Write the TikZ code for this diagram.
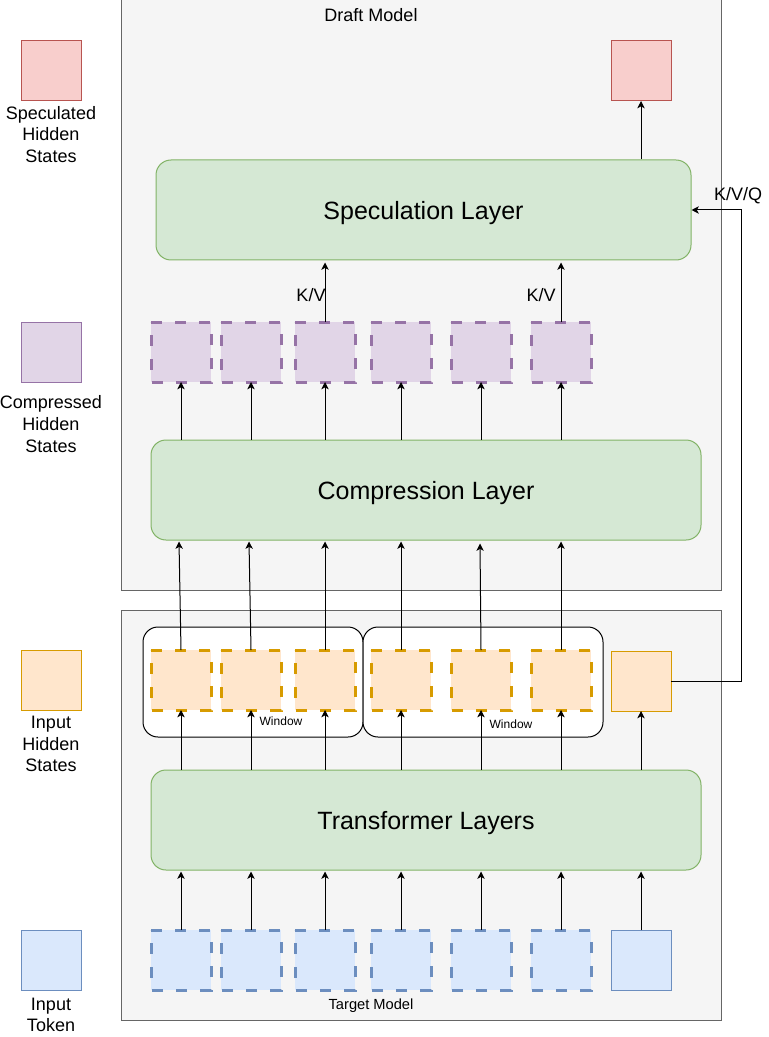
\documentclass[tikz,border=0pt]{standalone}
\usepackage{fontspec}
\setmainfont{Liberation Sans}
\usetikzlibrary{arrows.meta}
\definecolor{contfill}{HTML}{F5F5F5}
\definecolor{contline}{HTML}{666666}
\definecolor{grfill}{HTML}{D5E8D4}
\definecolor{grline}{HTML}{82B366}
\definecolor{pkfill}{HTML}{F8CECC}
\definecolor{pkline}{HTML}{B85450}
\definecolor{pufill}{HTML}{E1D5E7}
\definecolor{puline}{HTML}{9673A6}
\definecolor{orfill}{HTML}{FFE6CC}
\definecolor{orline}{HTML}{D79B00}
\definecolor{blfill}{HTML}{DAE8FC}
\definecolor{blline}{HTML}{6C8EBF}
\newcommand\dashsq[5]{%
  \node[sq, fill=#4] (#1) at (#2,#3) {};
  \draw[dashline, draw=#5] (#1.north west) -- (#1.north east) -- (#1.south east) -- (#1.south west) -- cycle;
}
\begin{document}
\begin{tikzpicture}[x=0.75pt,y=-0.75pt,
  container/.style={draw=contline, fill=contfill, line width=0.75pt, inner sep=0pt},
  layer/.style={draw=grline, fill=grfill, line width=0.75pt, rounded corners=11.25pt, inner sep=0pt,
    minimum height=75pt, text depth=0pt, font=\fontsize{18.75}{22.5}\selectfont},
  win/.style={draw=black, fill=white, line width=0.75pt, rounded corners=11.25pt, inner sep=0pt,
    minimum height=82.5pt},
  sq/.style={minimum width=45pt, minimum height=45pt, inner sep=0pt, outer sep=0pt},
  solidsq/.style={sq, line width=0.75pt},
  dashline/.style={line width=2.25pt, dash pattern=on 8.25pt off 9.75pt},
  arr/.style={draw=black, line width=0.75pt, -{Stealth[length=5.5pt,width=5.5pt,inset=1.5pt]}},
  lbl/.style={font=\fontsize{13.5}{16.2}\selectfont, align=center, inner sep=0pt},
  small/.style={font=\fontsize{9}{10.8}\selectfont, inner sep=0pt}]
\useasboundingbox (0,0) rectangle (768,1037);

% containers
\node[container, minimum width=450pt, minimum height=442.5pt] (draft) at (421,295) {};
\node[container, minimum width=450pt, minimum height=307.5pt] (target) at (421,815) {};
\node[lbl] (draftlbl) at (371,15) {Draft Model};
\node[font=\fontsize{11}{13.2}\selectfont, inner sep=0pt] (targetlbl) at (371,1005.5) {Target Model};

% windows
\node[win, minimum width=165pt] (win1) at (253,682) {};
\node[win, minimum width=180pt] (win2) at (483,682) {};
\node[small] (w1lbl) at (281,721) {Window};
\node[small] (w2lbl) at (511,724) {Window};

% layers
\node[layer, minimum width=401.25pt] (spec) at (423.5,210) {Speculation Layer};
\node[layer, minimum width=412.5pt] (comp) at (426,490) {Compression Layer};
\node[layer, minimum width=412.5pt] (trans) at (426,820) {Transformer Layers};

% legend
\node[solidsq, draw=pkline, fill=pkfill] (lpk) at (51,71) {};
\node[solidsq, draw=puline, fill=pufill] (lpu) at (51,352) {};
\node[solidsq, draw=orline, fill=orfill] (lor) at (51,680) {};
\node[solidsq, draw=blline, fill=blfill] (lbl) at (51,960) {};
\node[lbl] (lpkt) at (51,134.5) {Speculated\\Hidden\\States};
\node[lbl] (lput) at (51,424) {Compressed\\Hidden\\States};
\node[lbl] (lort) at (51,744) {Input\\Hidden\\States};
\node[lbl] (lblt) at (51,1015) {Input\\Token};

% dashed squares
\dashsq{p1}{181}{352}{pufill}{puline}
\dashsq{p2}{251}{352}{pufill}{puline}
\dashsq{p3}{325}{352}{pufill}{puline}
\dashsq{p4}{401}{352}{pufill}{puline}
\dashsq{p5}{481}{352}{pufill}{puline}
\dashsq{p6}{561}{352}{pufill}{puline}
\dashsq{o1}{181}{680}{orfill}{orline}
\dashsq{o2}{251}{680}{orfill}{orline}
\dashsq{o3}{325}{680}{orfill}{orline}
\dashsq{o4}{401}{680}{orfill}{orline}
\dashsq{o5}{481}{680}{orfill}{orline}
\dashsq{o6}{561}{680}{orfill}{orline}
\dashsq{b1}{181}{960}{blfill}{blline}
\dashsq{b2}{251}{960}{blfill}{blline}
\dashsq{b3}{325}{960}{blfill}{blline}
\dashsq{b4}{401}{960}{blfill}{blline}
\dashsq{b5}{481}{960}{blfill}{blline}
\dashsq{b6}{561}{960}{blfill}{blline}

% solid squares
\node[solidsq, draw=pkline, fill=pkfill] (pk) at (641,71) {};
\node[solidsq, draw=orline, fill=orfill] (so) at (641,681) {};
\node[solidsq, draw=blline, fill=blfill] (sb) at (641,960) {};

% arrows: blue -> transformer
\foreach \i in {b1,b2,b3,b4,b5,b6,sb}
  \draw[arr, shorten >=0.75pt] (\i.north) -- (\i |- trans.south);
% transformer -> orange
\foreach \i in {o1,o2,o3,o4,o5,o6,so}
  \draw[arr] (\i |- trans.north) -- (\i.south);
% orange -> compression
\coordinate (c1) at (179,541.5);
\coordinate (c2) at (249,541.5);
\coordinate (c3) at (325,541.5);
\coordinate (c4) at (401,541.5);
\coordinate (c5) at (480,543.5);
\coordinate (c6) at (561,541.5);
\foreach \i in {1,...,6}
  \draw[arr] (o\i.north) -- (c\i);
% compression -> purple
\foreach \i in {p1,p2,p3,p4,p5,p6}
  \draw[arr] (\i |- comp.north) -- (\i.south);
% purple -> speculation (K/V)
\draw[arr, shorten >=1.5pt] (p3.north) -- (p3 |- spec.south);
\draw[arr, shorten >=1.5pt] (p6.north) -- (p6 |- spec.south);
\node[lbl] (kv1) at (311,295) {K/V};
\node[lbl] (kv2) at (541,295) {K/V};
% speculation -> pink
\draw[arr] (pk |- spec.north) -- (pk.south);
% K/V/Q
\coordinate (turn) at (741,681);
\draw[arr] (so.east) -- (turn) |- (spec.east);
\node[lbl] (kvq) at (738,196) {K/V/Q};
\end{tikzpicture}
\end{document}
